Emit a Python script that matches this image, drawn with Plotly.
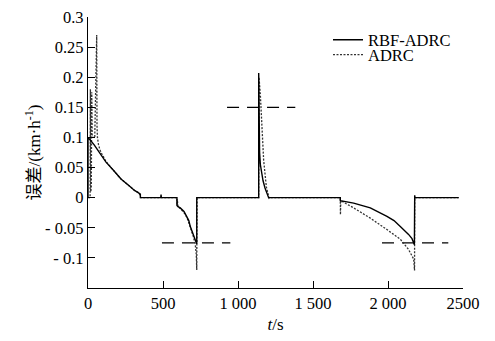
import plotly.graph_objects as go

# ---- data ----
rbf_t = [0, 0, 40, 82, 120, 171, 220, 282, 310, 337, 349, 349, 485, 487, 489,
         593, 593, 600, 615, 640, 660, 672, 682, 694, 704, 715, 722, 725, 725,
         1138, 1138, 1141, 1144, 1149, 1157, 1167, 1180, 1193, 1204,
         1682, 1682, 1771, 1882, 1993, 2040, 2082, 2115, 2137, 2160, 2171, 2176, 2178, 2180, 2471]
rbf_y = [0, 0.1, 0.088, 0.073, 0.059, 0.045, 0.031, 0.018, 0.012, 0.008, 0.006, 0, 0, 0.005, 0,
         0, -0.013, -0.015, -0.017, -0.023, -0.031, -0.038, -0.048, -0.056, -0.064, -0.071, -0.075, -0.077, 0,
         0, 0.207, 0.12, 0.075, 0.055, 0.04, 0.028, 0.016, 0.005, 0,
         0, -0.005, -0.009, -0.017, -0.031, -0.038, -0.048, -0.055, -0.061, -0.068, -0.075, -0.078, 0.004, 0, 0]

adrc_t = [0, 14, 16, 18, 20, 22, 25, 28, 45, 58, 60, 63, 70, 80, 92, 120, 171, 220, 282, 310, 340, 352,
          593, 594, 596, 600, 615, 640, 660, 682, 704, 716, 722, 725, 727,
          1138, 1140, 1149, 1160, 1171, 1189, 1207, 1215,
          1682, 1683, 1685, 1771, 1882, 1993, 2082, 2137, 2171, 2177, 2178, 2471]
adrc_y = [0, 0, 0.18, 0.01, 0.178, 0.015, 0.175, 0.1, 0.1, 0.27, 0.12, 0.1, 0.088, 0.079, 0.073, 0.06,
          0.045, 0.031, 0.018, 0.012, 0.008, 0,
          0, -0.012, -0.005, -0.015, -0.018, -0.025, -0.033, -0.049, -0.066, -0.08, -0.095, -0.12, 0,
          0, 0.2, 0.171, 0.116, 0.062, 0.018, -0.001, 0,
          0, -0.028, -0.005, -0.017, -0.034, -0.053, -0.069, -0.086, -0.102, -0.121, 0, 0]

# dashed reference levels
ref_y = [0.15, -0.075, -0.075]
ref_t_start = [927, 493, 1960]
ref_t_end = [1382, 949, 2402]

x_tickvals = [0, 500, 1000, 1500, 2000, 2500]
x_ticktext = ["0", "500", "1 000", "1 500", "2 000", "2500"]
y_tickvals = [-0.1, -0.05, 0, 0.05, 0.1, 0.15, 0.2, 0.25, 0.3]
y_ticktext = ["- 0.1", "- 0.05", "0", "0.05", "0.1", "0.15", "0.2", "0.25", "0.3"]

FONT = "Liberation Serif, DejaVu Serif, serif"
FONT_CJK = "Liberation Serif, Noto Sans CJK SC, serif"

fig = go.Figure()
for y0, a, b in zip(ref_y, ref_t_start, ref_t_end):
    fig.add_trace(go.Scatter(x=[a, b], y=[y0, y0], mode="lines", showlegend=False,
                             line=dict(color="black", width=1.4, dash="12px,8px"),
                             hoverinfo="skip"))
fig.add_trace(go.Scatter(x=adrc_t, y=adrc_y, mode="lines", name="ADRC", legend="legend2",
                         line=dict(color="#333333", width=1.3, dash="2px,1.5px")))
fig.add_trace(go.Scatter(x=rbf_t, y=rbf_y, mode="lines", name="RBF-ADRC", legend="legend",
                         line=dict(color="black", width=1.4)))

axis_common = dict(showline=True, linecolor="black", linewidth=1.2, ticks="inside",
                   ticklen=7, tickwidth=1.2, tickcolor="black", showgrid=False,
                   zeroline=False, automargin=False, ticklabeloverflow="allow",
                   tickfont=dict(family=FONT, size=16.5, color="black"))

fig.update_xaxes(range=[0, 2500], tickmode="array", tickvals=x_tickvals, ticktext=x_ticktext,
                 title=dict(text="<i>t</i>/s", font=dict(family=FONT, size=17, color="black"),
                            standoff=6),
                 **axis_common)
fig.update_yaxes(range=[-0.15, 0.3], tickmode="array", tickvals=y_tickvals, ticktext=y_ticktext,
                 title=dict(text="误差/(km·h<sup>-1</sup>)",
                            font=dict(family=FONT_CJK, size=17, color="black"), standoff=0),
                 **axis_common)

leg_common = dict(xanchor="left", yanchor="middle", bgcolor="rgba(0,0,0,0)",
                  font=dict(family=FONT, size=16.5, color="black"), itemwidth=30,
                  borderwidth=0)
# the page body has an 8px margin, so the margins below are offset to compensate
fig.update_layout(
    width=495, height=341,
    font=dict(family=FONT, color="black"),
    margin=dict(l=80, r=40, t=9, b=61),
    paper_bgcolor="white", plot_bgcolor="white",
    legend=dict(x=0.64, y=0.915, **leg_common),
    legend2=dict(x=0.64, y=0.86, **leg_common),
)
fig.write_html("out.html")
